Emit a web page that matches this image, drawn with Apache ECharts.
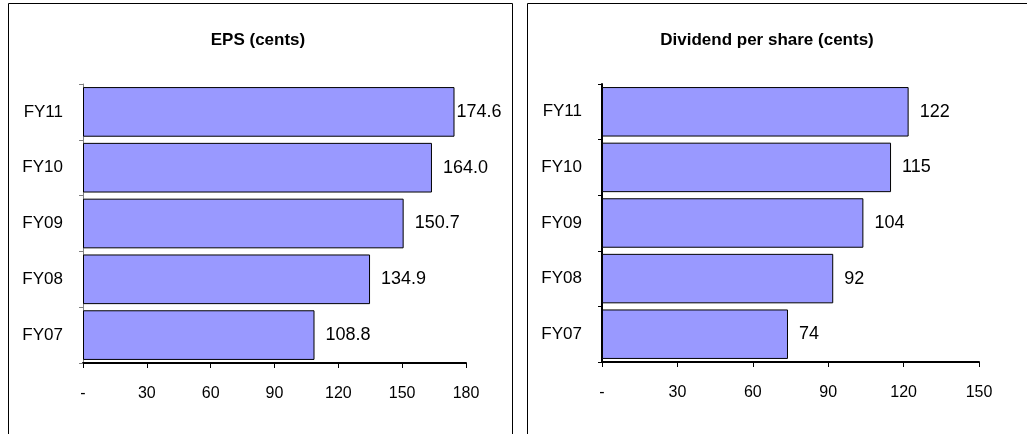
<!DOCTYPE html>
<html>
<head>
<meta charset="utf-8">
<script src="https://cdn.jsdelivr.net/npm/echarts@6/dist/echarts.min.js"></script>
<style>
  html, body { margin: 0; padding: 0; background: #fff; }
  #main { width: 1027px; height: 434px; }
</style>
</head>
<body>
<div id="main"></div>
<script>
var years = ["FY07", "FY08", "FY09", "FY10", "FY11"];
var eps = [108.8, 134.9, 150.7, 164.0, 174.6];
var dps = [74, 92, 104, 115, 122];
var epsTicks = [0, 30, 60, 90, 120, 150, 180];
var dpsTicks = [0, 30, 60, 90, 120, 150];

var font = "'Liberation Sans', Arial, sans-serif";
var barColor = "#9999ff";

var myChart = echarts.init(document.getElementById("main"));

function tickFmt(v) {
  return v === 0 ? "-" : String(v);
}

function xAxisFor(idx, ticks) {
  return {
    type: "value",
    gridIndex: idx,
    min: ticks[0],
    max: ticks[ticks.length - 1],
    interval: ticks[1] - ticks[0],
    splitLine: { show: false },
    axisLine: { show: true, lineStyle: { color: "#000", width: 2 } },
    axisTick: { show: true, length: 5, lineStyle: { color: "#000", width: 1 } },
    axisLabel: { margin: 23, color: "#000", fontSize: 16, fontFamily: font, formatter: tickFmt }
  };
}

function yAxisFor(idx, lineColor, lineWidth) {
  return {
    type: "category",
    gridIndex: idx,
    data: years,
    axisLine: { show: true, lineStyle: { color: lineColor, width: lineWidth } },
    axisTick: { show: true, length: 4, lineStyle: { color: lineColor, width: 1 } },
    axisLabel: { margin: 20, color: "#000", fontSize: 17, fontFamily: font }
  };
}

function barSeries(idx, values, decimals) {
  return {
    type: "bar",
    xAxisIndex: idx,
    yAxisIndex: idx,
    data: values,
    barCategoryGap: "11%",
    itemStyle: { color: barColor, borderColor: "#000", borderWidth: 1 },
    label: {
      show: true,
      position: "right",
      distance: 11,
      color: "#000",
      fontSize: 18,
      fontFamily: font,
      formatter: function (p) {
        return p.value.toFixed(decimals);
      }
    }
  };
}

option = {
  animation: false,
  title: [
    {
      text: "EPS (cents)",
      left: 253, top: 27, textAlign: "center",
      textStyle: { fontSize: 17, fontWeight: "bold", color: "#000", fontFamily: font }
    },
    {
      text: "Dividend per share (cents)",
      left: 762, top: 27, textAlign: "center",
      textStyle: { fontSize: 17, fontWeight: "bold", color: "#000", fontFamily: font }
    }
  ],
  // panel frames
  graphic: [
    { type: "rect", shape: { x: 8.5, y: 3.5, width: 504, height: 440 }, style: { fill: null, stroke: "#000", lineWidth: 1 } },
    { type: "rect", shape: { x: 527.5, y: 3.5, width: 520, height: 440 }, style: { fill: null, stroke: "#000", lineWidth: 1 } }
  ],
  grid: [
    { left: 83, top: 84, width: 383, height: 279 },
    { left: 602, top: 84, width: 377, height: 278 }
  ],
  xAxis: [xAxisFor(0, epsTicks), xAxisFor(1, dpsTicks)],
  yAxis: [yAxisFor(0, "#808080", 1), yAxisFor(1, "#000", 2)],
  series: [barSeries(0, eps, 1), barSeries(1, dps, 0)]
};

// FY11 EPS label sits tight against its bar in the original
option.series[0].data = eps.map(function (v, i) {
  return i === eps.length - 1 ? { value: v, label: { distance: 2 } } : v;
});

myChart.setOption(option);
</script>
</body>
</html>
